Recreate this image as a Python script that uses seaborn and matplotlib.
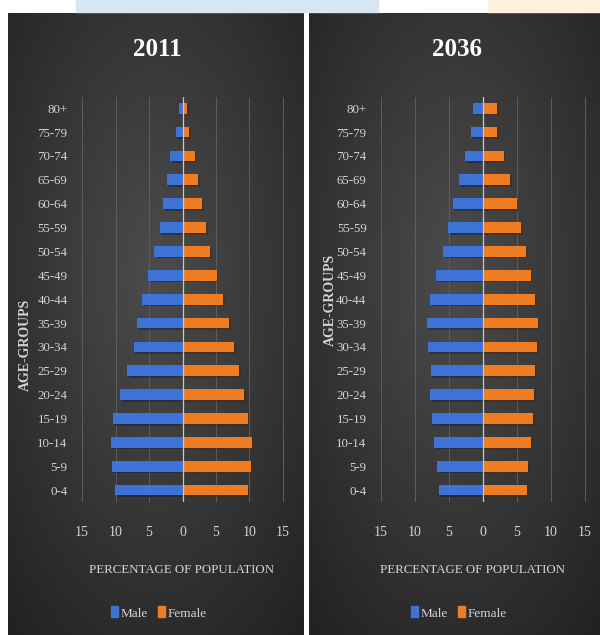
import numpy as np
import pandas as pd
import matplotlib
matplotlib.use("Agg")
import matplotlib.pyplot as plt
import seaborn as sns
from matplotlib.patches import Rectangle
import matplotlib.patheffects as pe

# ---------------- data ----------------
age_groups = ["80+", "75-79", "70-74", "65-69", "60-64", "55-59", "50-54", "45-49",
              "40-44", "35-39", "30-34", "25-29", "20-24", "15-19", "10-14", "5-9", "0-4"]
male_2011 = [0.5, 1.0, 1.8, 2.25, 2.85, 3.4, 4.25, 5.1, 6.0, 6.8, 7.3, 8.3, 9.3, 10.3, 10.7, 10.45, 10.05]
female_2011 = [0.7, 0.95, 1.8, 2.3, 2.95, 3.5, 4.1, 5.1, 6.05, 6.95, 7.7, 8.5, 9.25, 9.75, 10.3, 10.2, 9.75]
male_2036 = [1.5, 1.75, 2.65, 3.6, 4.45, 5.1, 5.95, 6.85, 7.8, 8.2, 8.1, 7.7, 7.8, 7.55, 7.15, 6.7, 6.5]
female_2036 = [2.1, 2.1, 3.05, 4.0, 4.95, 5.65, 6.3, 7.0, 7.6, 8.05, 7.95, 7.6, 7.5, 7.35, 7.0, 6.65, 6.4]
years = ["2011", "2036"]
sexes = ["Male", "Female"]
x_ticks = [-15, -10, -5, 0, 5, 10, 15]
x_tick_labels = ["15", "10", "5", "0", "5", "10", "15"]
x_title = "PERCENTAGE OF POPULATION"
y_title = "AGE-GROUPS"

series = {"2011": (male_2011, female_2011), "2036": (male_2036, female_2036)}

sns.set_theme(style="dark")
plt.rcParams["font.family"] = ["Liberation Serif", "DejaVu Serif"]

W, H = 600, 635
fig = plt.figure(figsize=(6, 6.35), dpi=100, facecolor="white")

def fx(px):
    return px / W

def fy(py):
    return 1 - py / H

# decorative top strips
fig.patches.append(Rectangle((fx(76), fy(12)), fx(378 - 76), 12 / H, transform=fig.transFigure,
                             color="#d6e6f2", zorder=0))
fig.patches.append(Rectangle((fx(488), fy(12)), fx(600 - 488), 12 / H, transform=fig.transFigure,
                             color="#fdf0dc", zorder=0))

palette = {"Male": "#3d72d6", "Female": "#f07c22"}
tick_col = "#d4d4d4"

panels = [
    dict(px0=8, px1=304, ax0=80, ax1=285, tx=157, xlx=181, lgx=159, ylx=25, yly=345),
    dict(px0=309, px1=600, ax0=379, ax1=587, tx=457, xlx=472, lgx=459, ylx=330, yly=300),
]

for year, p in zip(years, panels):
    # background with radial gradient
    bg = fig.add_axes([fx(p["px0"]), 0, fx(p["px1"] - p["px0"]), (H - 13) / H], zorder=0)
    ny, nx = 300, 200
    yy, xx = np.mgrid[0:ny, 0:nx]
    r = np.sqrt(((xx - nx * 0.5) / (nx * 0.75)) ** 2 + ((yy - ny * 0.42) / (ny * 0.75)) ** 2)
    t = np.clip(r, 0, 1)
    v = (0x4c * (1 - t) + 0x22 * t) / 255.0
    img = np.dstack([v, v, v])
    bg.imshow(img, aspect="auto", extent=[0, 1, 0, 1], interpolation="bilinear")
    bg.set_axis_off()

    m, f = series[year]
    df = pd.DataFrame({
        "age": age_groups * 2,
        "value": [-v_ for v_ in m] + list(f),
        "sex": ["Male"] * len(m) + ["Female"] * len(f),
    })
    ax = fig.add_axes([fx(p["ax0"]), fy(502), fx(p["ax1"] - p["ax0"]), 405 / H], zorder=2)
    ax.set_facecolor("none")
    sns.barplot(data=df, x="value", y="age", hue="sex", order=age_groups, hue_order=sexes,
                palette=palette, dodge=False, width=0.45, orient="h", ax=ax, legend=False,
                saturation=1)
    for bar in ax.patches:
        bar.set_path_effects([pe.SimplePatchShadow(offset=(1.2, -1.2), alpha=0.5), pe.Normal()])
        bar.set_edgecolor("none")
    ax.set_xlim(-15.3, 15.3)
    ax.set_ylim(16.5, -0.47)
    ax.set_xticks(x_ticks)
    ax.set_xticklabels(x_tick_labels)
    ax.tick_params(axis="x", colors=tick_col, labelsize=10, pad=17, length=0)
    ax.tick_params(axis="y", colors=tick_col, labelsize=9.3, pad=9, length=0)
    for lab in ax.get_yticklabels() + ax.get_xticklabels():
        lab.set_color(tick_col)
    ax.set_xlabel("")
    ax.set_ylabel("")
    ax.grid(False)
    for xv in x_ticks:
        if xv == 0:
            ax.axvline(xv, color="#c8c8c8", lw=0.9, zorder=3)
        else:
            ax.axvline(xv, color="#5e5e5e", lw=0.7, zorder=0)
    for s in ax.spines.values():
        s.set_visible(False)

    fig.text(fx(p["tx"]), fy(50), year, ha="center", va="center", color="white",
             fontsize=18, fontweight="bold")
    fig.text(fx(p["xlx"]), fy(570), x_title, ha="center", va="center", color=tick_col, fontsize=9.3)
    fig.text(fx(p["ylx"]), fy(p["yly"]), y_title, ha="center", va="center", color=tick_col,
             fontsize=10, rotation=90, fontweight="bold")

    handles = [Rectangle((0, 0), 1, 1, color=palette[s]) for s in sexes]
    ax.legend(handles, sexes, loc="center", bbox_to_anchor=(fx(p["lgx"]), fy(613)),
              bbox_transform=fig.transFigure, ncol=2, frameon=False, handlelength=0.5,
              handleheight=0.9, handletextpad=0.2, columnspacing=0.8, labelcolor=tick_col,
              prop={"size": 9.5})

fig.savefig("out.png", dpi=100, facecolor="white")
